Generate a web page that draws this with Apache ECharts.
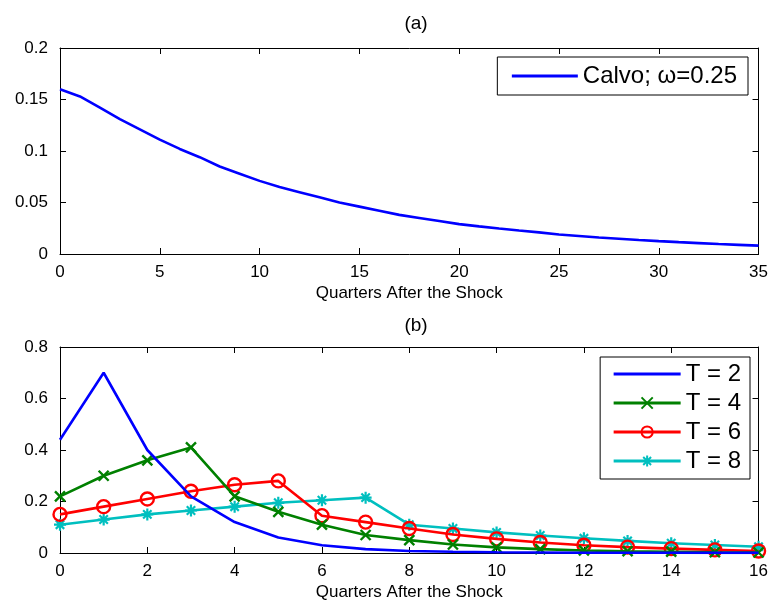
<!DOCTYPE html>
<html>
<head>
<meta charset="utf-8">
<script src="https://cdn.jsdelivr.net/npm/echarts@6/dist/echarts.min.js"></script>
<style>html,body{margin:0;padding:0;background:#fff;}#c{width:771px;height:610px;}</style>
</head>
<body>
<div id="c"></div>
<script>
// Panel (a)
const quartersA = Array.from({length: 36}, (_, i) => i);
const calvo = [0.160,0.153,0.142,0.131,0.121,0.111,0.102,0.094,0.085,0.078,0.071,0.065,0.060,0.055,0.050,0.046,0.042,0.038,0.035,0.032,0.029,0.0268,0.0247,0.0228,0.021,0.019,0.0175,0.016,0.0148,0.0136,0.0125,0.0115,0.0106,0.0097,0.0089,0.0081];
// Panel (b)
const quartersB = Array.from({length: 17}, (_, i) => i);
const t2 = [0.44,0.70,0.40,0.22,0.12,0.06,0.03,0.015,0.008,0.005,0.003,0.002,0.001,0.001,0.0008,0.0005,0.0004];
const t4 = [0.22,0.30,0.36,0.41,0.22,0.16,0.11,0.07,0.05,0.033,0.022,0.015,0.010,0.007,0.005,0.003,0.002];
const t6 = [0.15,0.18,0.21,0.24,0.265,0.28,0.145,0.12,0.095,0.072,0.055,0.041,0.030,0.023,0.017,0.012,0.008];
const t8 = [0.11,0.13,0.15,0.165,0.18,0.195,0.205,0.215,0.11,0.095,0.08,0.068,0.057,0.047,0.038,0.031,0.024];

const FONT = 'Liberation Sans, Arial, sans-serif';
const pair = (xs, ys) => xs.map((x, i) => [x, ys[i]]);

const chart = echarts.init(document.getElementById('c'), null, {renderer: 'canvas'});
const lab = {color: '#000', fontSize: 17, fontFamily: FONT};
function xAx(grid, max, interval, top) {
  return {
    type: 'value', gridIndex: grid, min: 0, max: max, interval: interval,
    position: top ? 'top' : 'bottom',
    name: top ? '' : 'Quarters After the Shock', nameLocation: 'middle', nameGap: 31,
    nameTextStyle: {color: '#000', fontSize: 17, fontFamily: FONT},
    axisLine: {show: true, onZero: false, lineStyle: {color: '#000', width: 1}},
    axisTick: {show: true, inside: true, length: 6, lineStyle: {color: '#000'}},
    axisLabel: {show: !top, ...lab, margin: 10},
    splitLine: {show: false}
  };
}
function yAx(grid, max, interval, right, fmt) {
  return {
    type: 'value', gridIndex: grid, min: 0, max: max, interval: interval,
    position: right ? 'right' : 'left',
    axisLine: {show: true, onZero: false, lineStyle: {color: '#000', width: 1}},
    axisTick: {show: true, inside: true, length: 6, lineStyle: {color: '#000'}},
    axisLabel: {show: !right, ...lab, margin: 12, formatter: fmt},
    splitLine: {show: false}
  };
}
const fmtA = v => String(+v.toFixed(2));
const fmtB = v => String(+v.toFixed(1));

const xPath = 'path://M0,0L10,10M10,0L0,10';
const starPath = 'path://M5,0L5,10M0,5L10,5M1.5,1.5L8.5,8.5M8.5,1.5L1.5,8.5';
const clear = 'rgba(0,0,0,0)';

chart.setOption({
  animation: false,
  backgroundColor: '#fff',
  title: [
    {text: '(a)', left: 411, top: 9, textAlign: 'center', textStyle: {fontSize: 19, fontWeight: 'normal', color: '#000', fontFamily: FONT}},
    {text: '(b)', left: 411, top: 311, textAlign: 'center', textStyle: {fontSize: 19, fontWeight: 'normal', color: '#000', fontFamily: FONT}}
  ],
  grid: [
    {left: 60, right: 9, top: 48, height: 206},
    {left: 60, right: 9, top: 347, height: 206}
  ],
  legend: [
    {
      data: ['Calvo; ω=0.25'], orient: 'vertical', right: 23, top: 57,
      backgroundColor: '#fff', borderColor: '#000', borderWidth: 1,
      padding: [7, 11, 7, 13], itemWidth: 66, itemHeight: 14,
      lineStyle: {width: 3},
      textStyle: {fontSize: 24, color: '#000', fontFamily: FONT}
    },
    {
      data: ['T = 2', 'T = 4', 'T = 6', 'T = 8'], orient: 'vertical', right: 21, top: 357,
      backgroundColor: '#fff', borderColor: '#000', borderWidth: 1,
      padding: [5, 9, 6, 12], itemWidth: 67, itemHeight: 14, itemGap: 5,
      lineStyle: {width: 3},
      textStyle: {fontSize: 24, color: '#000', fontFamily: FONT}
    }
  ],
  xAxis: [xAx(0, 35, 5, false), xAx(0, 35, 5, true), xAx(1, 16, 2, false), xAx(1, 16, 2, true)],
  yAxis: [yAx(0, 0.2, 0.05, false, fmtA), yAx(0, 0.2, 0.05, true, fmtA), yAx(1, 0.8, 0.2, false, fmtB), yAx(1, 0.8, 0.2, true, fmtB)],
  series: [
    {name: 'Calvo; ω=0.25', type: 'line', xAxisIndex: 0, yAxisIndex: 0, data: pair(quartersA, calvo),
     showSymbol: false, symbol: 'circle', symbolSize: 0, lineStyle: {color: '#0000ff', width: 2.6},
     itemStyle: {color: clear, borderWidth: 0}},
    {name: 'T = 2', type: 'line', xAxisIndex: 2, yAxisIndex: 2, data: pair(quartersB, t2),
     showSymbol: false, symbol: 'circle', symbolSize: 0, lineStyle: {color: '#0000ff', width: 2.6},
     itemStyle: {color: clear, borderWidth: 0}, z: 5},
    {name: 'T = 4', type: 'line', xAxisIndex: 2, yAxisIndex: 2, data: pair(quartersB, t4),
     symbol: xPath, symbolSize: 10, lineStyle: {color: '#008000', width: 2.6},
     itemStyle: {color: '#008000', borderColor: '#008000', borderWidth: 2.4}, z: 4},
    {name: 'T = 6', type: 'line', xAxisIndex: 2, yAxisIndex: 2, data: pair(quartersB, t6),
     symbol: 'circle', symbolSize: 13, lineStyle: {color: '#ff0000', width: 2.6},
     itemStyle: {color: clear, borderColor: '#ff0000', borderWidth: 2.4}, z: 3},
    {name: 'T = 8', type: 'line', xAxisIndex: 2, yAxisIndex: 2, data: pair(quartersB, t8),
     symbol: starPath, symbolSize: 12, lineStyle: {color: '#00bfbf', width: 2.6},
     itemStyle: {color: '#00bfbf', borderColor: '#00bfbf', borderWidth: 2.2}, z: 2}
  ]
});
</script>
</body>
</html>
